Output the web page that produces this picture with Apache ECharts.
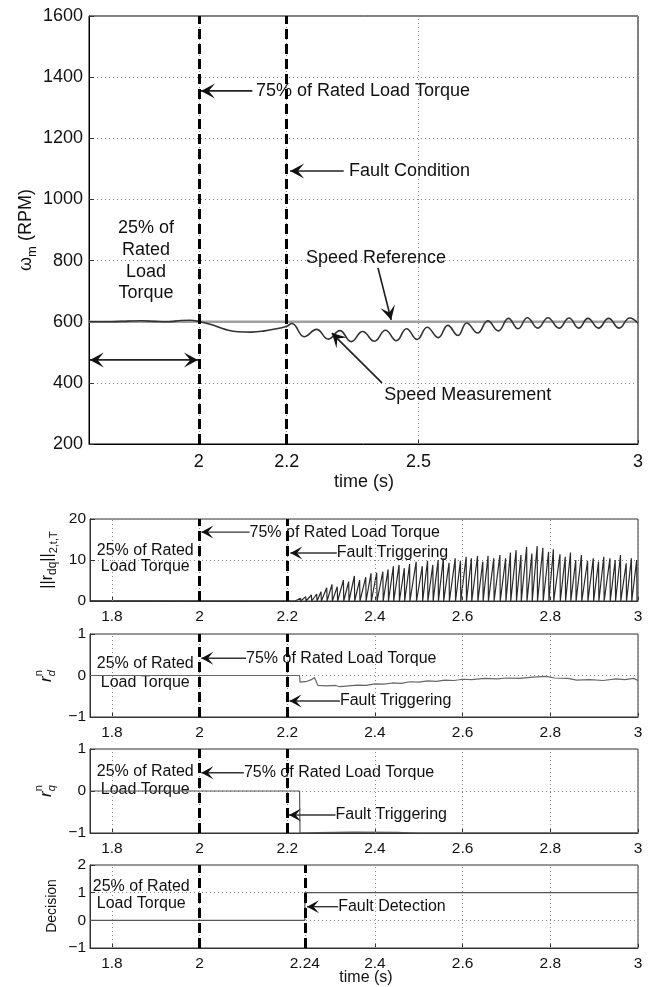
<!DOCTYPE html>
<html><head><meta charset="utf-8">
<script src="https://cdn.jsdelivr.net/npm/echarts@6/dist/echarts.min.js"></script>
<style>html,body{margin:0;padding:0;background:#fff}#c{width:652px;height:987px}</style>
</head><body><div id="c"></div>
<script>
// ---------------- data ----------------
const speedRefT = [1.75, 3.0];
const speedRefV = [600, 600];
const speedT = [1.75, 1.80, 1.84, 1.87, 1.90, 1.93, 1.96, 1.98, 2.00, 2.03, 2.06, 2.09, 2.12, 2.15, 2.18, 2.20, 2.212, 2.240, 2.268, 2.295, 2.321, 2.347, 2.373, 2.400, 2.425, 2.450, 2.473, 2.497, 2.520, 2.545, 2.567, 2.590, 2.610, 2.635, 2.658, 2.682, 2.705, 2.727, 2.748, 2.772, 2.795, 2.820, 2.843, 2.865, 2.886, 2.910, 2.933, 2.957, 2.981, 3.000];
const speedV = [600, 600, 602, 603, 601, 600, 604, 605, 601, 590, 575, 567, 566, 570, 578, 585, 594, 551, 575, 543, 571, 535, 568, 536, 572, 538, 577, 542, 582, 548, 588, 555, 596, 563, 603, 570, 611, 577, 613, 579, 613, 579, 612, 579, 611, 579, 611, 579, 612, 595];

const resPeakT = [2.230, 2.242, 2.255, 2.267, 2.277, 2.290, 2.302, 2.314, 2.328, 2.340, 2.353, 2.365, 2.379, 2.391, 2.404, 2.418, 2.430, 2.442, 2.455, 2.467, 2.479, 2.494, 2.508, 2.520, 2.532, 2.544, 2.556, 2.569, 2.583, 2.595, 2.608, 2.620, 2.634, 2.646, 2.658, 2.671, 2.685, 2.698, 2.709, 2.722, 2.733, 2.746, 2.758, 2.770, 2.783, 2.796, 2.807, 2.822, 2.834, 2.846, 2.858, 2.871, 2.885, 2.898, 2.910, 2.922, 2.936, 2.948, 2.960, 2.973, 2.985, 2.997];
const resPeakV = [0.65, 1.06, 1.46, 1.71, 2.28, 3.25, 4.07, 3.5, 5.1, 4.7, 6.1, 5.1, 5.8, 6.75, 6.9, 7.15, 7.7, 8.5, 8.8, 8.0, 9.0, 9.6, 8.5, 9.8, 8.8, 10.0, 10.4, 9.3, 10.4, 9.8, 10.8, 10.4, 11.0, 9.6, 11.0, 10.4, 11.2, 10.4, 11.8, 12.4, 11.2, 13.2, 11.6, 13.4, 13.0, 12.0, 12.6, 11.4, 10.8, 11.8, 10.0, 11.2, 9.8, 10.4, 9.6, 10.8, 10.4, 10.0, 11.2, 9.2, 10.4, 10.0];
const resStartT = [1.75, 2.218];
const resStartV = [0.05, 0];

const rdT = [1.75, 2.228, 2.229, 2.245, 2.255, 2.262, 2.270, 2.290, 2.310, 2.320, 2.340, 2.360, 2.380, 2.400, 2.420, 2.440, 2.460, 2.480, 2.500, 2.520, 2.540, 2.560, 2.580, 2.600, 2.620, 2.650, 2.680, 2.700, 2.730, 2.760, 2.790, 2.810, 2.840, 2.860, 2.890, 2.920, 2.950, 2.970, 2.990, 3.000];
const rdV = [0, 0, -0.16, -0.14, -0.10, -0.05, -0.24, -0.25, -0.24, -0.27, -0.25, -0.23, -0.24, -0.20, -0.21, -0.18, -0.19, -0.15, -0.16, -0.13, -0.14, -0.11, -0.12, -0.09, -0.10, -0.07, -0.08, -0.06, -0.07, -0.04, -0.02, -0.06, -0.07, -0.11, -0.10, -0.12, -0.08, -0.10, -0.07, -0.12];

const rqT = [1.75, 2.228, 2.229, 2.27, 2.35, 2.45, 2.50, 3.00];
const rqV = [0, 0, -1, -0.99, -0.98, -0.985, -1, -1];

const decT = [1.75, 2.24, 2.24, 3.00];
const decV = [0, 0, 1, 1];

const topXTicks = [2, 2.2, 2.5, 3];
const smallXTicks = [1.8, 2, 2.2, 2.4, 2.6, 2.8, 3];
const decXTicks = [1.8, 2, 2.24, 2.4, 2.6, 2.8, 3];
const eventT = [2, 2.2];
const detectT = [2, 2.24];

// ---------------- layout ----------------
const FONT = '"Liberation Sans", Arial, Helvetica, sans-serif';
const INK = '#111';
const grids = [
  {left: 89, right: 14, top: 16, height: 428},
  {left: 90, right: 14, top: 519, height: 82},
  {left: 90, right: 14, top: 634, height: 83},
  {left: 90, right: 14, top: 749, height: 84},
  {left: 90, right: 14, top: 865, height: 83}
];
const yRanges = [[200, 1600, 200], [0, 20, 10], [-1, 1, 1], [-1, 1, 1], [-1, 2, 1]];
const xTickSets = [topXTicks, smallXTicks, smallXTicks, smallXTicks, decXTicks];
const dashSets = [eventT, eventT, eventT, eventT, detectT];

const zip = (a, b) => a.map((v, i) => [v, b[i]]);
const fmtNum = v => (v < 0 ? '\u2212' + (-v) : String(v));

const xAxes = grids.map((g, i) => ({
  type: 'value', gridIndex: i, min: 1.75, max: 3,
  axisLine: {show: true, onZero: false, lineStyle: {color: i ? '#333' : '#000', width: 1}},
  axisTick: {show: true, inside: true, length: 5, customValues: xTickSets[i], lineStyle: {color: '#333'}},
  axisLabel: {customValues: xTickSets[i], fontFamily: FONT, fontSize: i ? 15.5 : 18, color: INK, margin: i ? 8 : 9, formatter: v => String(v)},
  splitLine: {show: false}
}));
const yAxes = grids.map((g, i) => ({
  type: 'value', gridIndex: i, min: yRanges[i][0], max: yRanges[i][1], interval: yRanges[i][2],
  axisLine: {show: true, onZero: false, lineStyle: {color: i ? '#333' : '#000', width: 1}},
  axisTick: {show: true, inside: true, length: 5, lineStyle: {color: '#333'}},
  axisLabel: {fontFamily: FONT, fontSize: i ? 15.5 : 18, color: INK, margin: i ? 4 : 6, formatter: fmtNum},
  splitLine: {show: true, lineStyle: {type: [1, 3], color: '#8a8a8a', width: 1}}
}));

// residual sawtooth built from read peaks
const resData = zip(resStartT, resStartV);
resPeakT.forEach((t, i) => { resData.push([t, resPeakV[i]]); resData.push([t + 0.0008, 0]); });

const series = [];
grids.forEach((g, i) => {
  series.push({
    type: 'line', xAxisIndex: i, yAxisIndex: i, data: [], z: 1, silent: true,
    markLine: {silent: true, symbol: ['none', 'none'], label: {show: false}, animation: false,
      lineStyle: {type: [1, 3], color: '#8a8a8a', width: 1},
      data: xTickSets[i].map(v => ({xAxis: v}))}
  });
  series.push({
    type: 'line', xAxisIndex: i, yAxisIndex: i, data: [], z: 6, silent: true,
    markLine: {silent: true, symbol: ['none', 'none'], label: {show: false}, animation: false,
      lineStyle: {type: [10, 5], color: '#000', width: 3},
      data: dashSets[i].map(v => ({xAxis: v}))}
  });
});
const lineBase = {type: 'line', showSymbol: false, symbol: 'none', silent: true, animation: false};
series.push(Object.assign({}, lineBase, {xAxisIndex: 0, yAxisIndex: 0, z: 3, data: zip(speedRefT, speedRefV), lineStyle: {color: '#a0a0a0', width: 2.4}}));
series.push(Object.assign({}, lineBase, {xAxisIndex: 0, yAxisIndex: 0, z: 4, smooth: 0.45, data: zip(speedT, speedV), lineStyle: {color: '#333', width: 1.6}}));
series.push(Object.assign({}, lineBase, {xAxisIndex: 1, yAxisIndex: 1, z: 4, data: resData, lineStyle: {color: '#2a2a2a', width: 1.2}}));
series.push(Object.assign({}, lineBase, {xAxisIndex: 2, yAxisIndex: 2, z: 4, data: zip(rdT, rdV), lineStyle: {color: '#666', width: 1.2}}));
series.push(Object.assign({}, lineBase, {xAxisIndex: 3, yAxisIndex: 3, z: 4, data: zip(rqT, rqV), lineStyle: {color: '#555', width: 1.2}}));
series.push(Object.assign({}, lineBase, {xAxisIndex: 4, yAxisIndex: 4, z: 4, data: zip(decT, decV), lineStyle: {color: '#555', width: 1.2}}));

const chart = echarts.init(document.getElementById('c'), null, {renderer: 'canvas'});
chart.setOption({
  animation: false,
  backgroundColor: '#fff',
  grid: grids.map((g, i) => Object.assign({show: true, borderColor: i ? '#333' : '#000', borderWidth: 1, backgroundColor: 'transparent', containLabel: false}, g)),
  xAxis: xAxes, yAxis: yAxes, series: series
});

// ---------------- annotations (data coordinates) ----------------
const texts = [
  [0, '75% of Rated Load Torque', 2.130, 1355, 'left', 18],
  [0, 'Fault Condition', 2.342, 1093, 'left', 18],
  [0, '25% of', 1.880, 906, 'center', 18],
  [0, 'Rated', 1.880, 835, 'center', 18],
  [0, 'Load', 1.880, 763, 'center', 18],
  [0, 'Torque', 1.880, 694, 'center', 18],
  [0, 'Speed Reference', 2.244, 808, 'left', 18],
  [0, 'Speed Measurement', 2.422, 360, 'left', 18],
  [1, '75% of Rated Load Torque', 2.114, 16.8, 'left', 16],
  [1, 'Fault Triggering', 2.313, 11.7, 'left', 16],
  [1, '25% of Rated', 1.876, 12.4, 'center', 16],
  [1, 'Load Torque', 1.876, 8.3, 'center', 16],
  [2, '75% of Rated Load Torque', 2.106, 0.414, 'left', 16],
  [2, 'Fault Triggering', 2.320, -0.614, 'left', 16],
  [2, '25% of Rated', 1.876, 0.277, 'center', 16],
  [2, 'Load Torque', 1.876, -0.173, 'center', 16],
  [3, '25% of Rated', 1.876, 0.46, 'center', 16],
  [3, 'Load Torque', 1.876, 0.04, 'center', 16],
  [3, '75% of Rated Load Torque', 2.101, 0.436, 'left', 16],
  [3, 'Fault Triggering', 2.310, -0.571, 'left', 16],
  [4, '25% of Rated', 1.867, 1.216, 'center', 16],
  [4, 'Load Torque', 1.867, 0.59, 'center', 16],
  [4, 'Fault Detection', 2.316, 0.493, 'left', 16]
];
// [grid, x1, y1, x2, y2, headAtStart]
const arrows = [
  [0, 2.122, 1355, 2.005, 1355, false],
  [0, 2.330, 1093, 2.208, 1093, false],
  [0, 2.408, 776, 2.438, 606, false],
  [0, 2.417, 400, 2.303, 563, false],
  [0, 1.752, 475, 1.998, 475, true],
  [1, 2.114, 16.8, 2.004, 16.8, false],
  [1, 2.313, 11.7, 2.207, 11.7, false],
  [2, 2.106, 0.414, 2.004, 0.414, false],
  [2, 2.320, -0.614, 2.205, -0.614, false],
  [3, 2.101, 0.436, 2.004, 0.436, false],
  [3, 2.310, -0.571, 2.204, -0.571, false],
  [4, 2.316, 0.493, 2.245, 0.493, false]
];

const px = (g, x, y) => chart.convertToPixel({gridIndex: g}, [x, y]);
const graphics = [];
texts.forEach(([g, t, x, y, al, s]) => {
  const p = px(g, x, y);
  graphics.push({type: 'text', x: p[0], y: p[1], z: 1, silent: true,
    style: {text: t, font: s + 'px ' + FONT, fill: INK, textAlign: al, textVerticalAlign: 'middle', align: al, verticalAlign: 'middle'}});
});
function head(tip, from, L, W) {
  const dx = tip[0] - from[0], dy = tip[1] - from[1];
  const d = Math.hypot(dx, dy) || 1;
  const ux = dx / d, uy = dy / d, nx = -uy, ny = ux;
  return {type: 'polygon', z: 20, silent: true,
    shape: {points: [tip, [tip[0] - ux * L + nx * W, tip[1] - uy * L + ny * W], [tip[0] - ux * L * 0.55, tip[1] - uy * L * 0.55], [tip[0] - ux * L - nx * W, tip[1] - uy * L - ny * W]]},
    style: {fill: '#111'}};
}
arrows.forEach(([g, x1, y1, x2, y2, both]) => {
  const a = px(g, x1, y1), b = px(g, x2, y2);
  const big = g === 0;
  graphics.push({type: 'line', z: 19, silent: true, shape: {x1: a[0], y1: a[1], x2: b[0], y2: b[1]}, style: {stroke: big ? '#222' : '#333', lineWidth: big ? 1.7 : 1.4}});
  graphics.push(head(b, a, big ? 14 : 12, big ? 7.5 : 6.5));
  if (both) graphics.push(head(a, b, 14, 7.5));
});

// rotated axis titles with sub/superscripts
const mctx = document.createElement('canvas').getContext('2d');
function tw(t, s, it) { mctx.font = (it ? 'italic ' : '') + s + 'px ' + FONT; return mctx.measureText(t).width; }
function rotLabel(cx, cy, segs) {
  let x = 0; const items = [];
  segs.forEach(sg => { items.push({sg: sg, x: x}); if (!sg.stack) x += tw(sg.t, sg.s, sg.it); });
  const W = x;
  return {type: 'group', x: cx, y: cy, rotation: Math.PI / 2, silent: true,
    children: items.map(it => ({type: 'text', x: it.x - W / 2, y: it.sg.dy || 0,
      style: {text: it.sg.t, font: (it.sg.it ? 'italic ' : '') + it.sg.s + 'px ' + FONT, fill: INK, textAlign: 'left', textVerticalAlign: 'middle', align: 'left', verticalAlign: 'middle'}}))};
}
graphics.push(rotLabel(26, 230, [{t: '\u03c9', s: 18}, {t: 'm', s: 13, dy: 6}, {t: ' (RPM)', s: 18}]));
graphics.push(rotLabel(48, 560, [{t: '||r', s: 16}, {t: 'dq', s: 12, dy: 5}, {t: '||', s: 16}, {t: '2,t,T', s: 11, dy: 6}]));
graphics.push(rotLabel(46, 676, [{t: 'r', s: 17, it: true}, {t: 'n', s: 11, dy: -7, stack: true}, {t: 'd', s: 11, dy: 6, it: true}]));
graphics.push(rotLabel(46, 791, [{t: 'r', s: 17, it: true}, {t: 'n', s: 11, dy: -7, stack: true}, {t: 'q', s: 11, dy: 6, it: true}]));
graphics.push(rotLabel(52, 906, [{t: 'Decision', s: 14}]));
// x-axis titles
graphics.push({type: 'text', x: 364, y: 482, silent: true, style: {text: 'time (s)', font: '18px ' + FONT, fill: INK, textAlign: 'center', textVerticalAlign: 'middle', align: 'center', verticalAlign: 'middle'}});
graphics.push({type: 'text', x: 366, y: 978, silent: true, style: {text: 'time (s)', font: '16px ' + FONT, fill: INK, textAlign: 'center', textVerticalAlign: 'middle', align: 'center', verticalAlign: 'middle'}});

chart.setOption({graphic: graphics});
</script></body></html>
